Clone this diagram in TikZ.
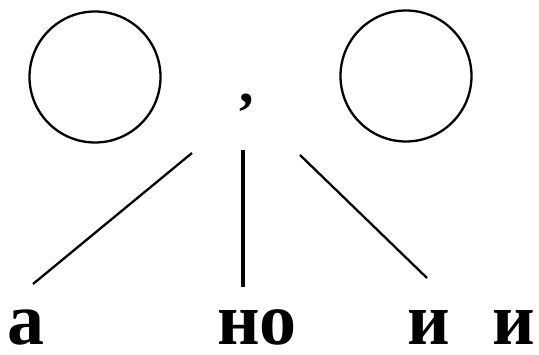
\documentclass[tikz,border=0pt]{standalone}
\usepackage{fontspec}
\setmainfont{Liberation Serif}
\usetikzlibrary{positioning}

\begin{document}
\begin{tikzpicture}[
    x=1pt, y=-1pt,
    font=\fontsize{74}{80}\selectfont\bfseries,
    ring/.style={draw, circle, line width=2.3pt, minimum size=131pt, inner sep=0pt},
    word/.style={anchor=base, inner sep=0pt, text depth=0pt},
    stem/.style={line width=2.3pt},
    trunk/.style={line width=3.2pt}
]
\useasboundingbox (0,0) rectangle (539,355);

% -- Row 1: two slots and the comma
\node[ring] (leftslot) at (95,77) {};
\node[ring] (rightslot) at (406,76) {};
\node[word, font=\fontsize{58}{62}\selectfont\bfseries] (comma) at (247,103) {,};

% -- Row 2: conjunctions
\node[word] (conjA) at (26,345) {а};
\node[word] (conjNo) at (257,345) {но};
\node[word] (conjI) at (429,345) {и};
\node[word] (conjII) at (514,345) {и};

% -- line ends
\coordinate (topL) at (192,153);
\coordinate (endL) at (33,284);
\coordinate (topM) at (243,150);
\coordinate (endM) at (243,287);
\coordinate (topR) at (300,155);
\coordinate (endR) at (427,278);

% -- lines
\draw[stem] (topL) -- (endL);
\draw[trunk] (topM) -- (endM);
\draw[stem] (topR) -- (endR);

\end{tikzpicture}
\end{document}
